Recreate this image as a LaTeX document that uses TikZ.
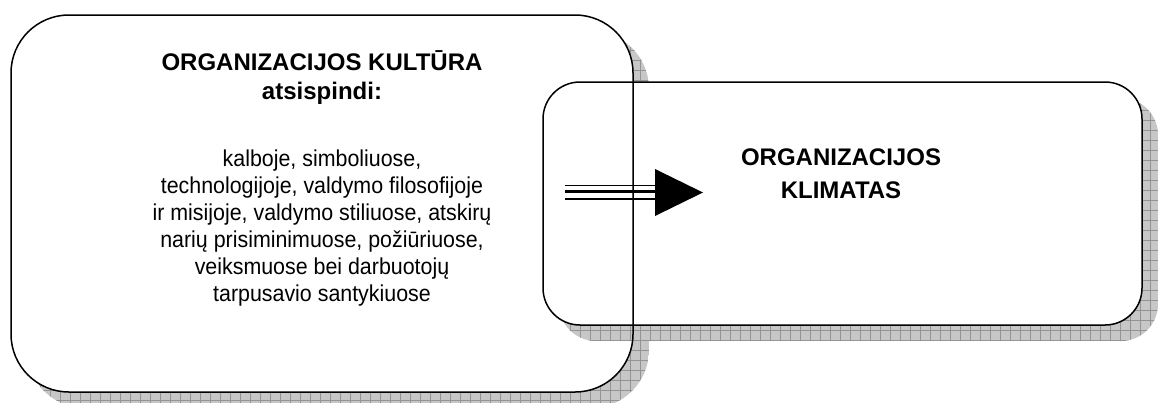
\documentclass[tikz,border=0pt]{standalone}
\usepackage{fontspec}
\setmainfont{Liberation Sans}
\newfontfamily\narrowfont[FakeStretch=0.93]{Liberation Sans}
\tikzset{
  shadowfill/.style={fill=black!22},
  shadowgrid/.style={draw=black!42, line width=0.6pt},
  boxline/.style={draw=black, line width=1.5pt},
  titletext/.style={font=\fontsize{24}{29}\selectfont\bfseries, align=center, inner sep=0pt},
  climatetext/.style={font=\fontsize{24}{33}\selectfont\bfseries, align=center, inner sep=0pt},
  bodytext/.style={font=\narrowfont\fontsize{23}{27}\selectfont, align=center, inner sep=0pt},
}
\begin{document}
\begin{tikzpicture}[x=1pt,y=-1pt]
\useasboundingbox (0,0) rectangle (1158,402);
% big box shadow
\begin{scope}
  \clip[rounded corners=58pt] (27,31) rectangle (649,408);
  \fill[shadowfill] (27,31) rectangle (649,408);
  \foreach \gx in {20,30,...,660} {\draw[shadowgrid] (\gx,20) -- (\gx,410);}
  \foreach \gy in {20,30,...,410} {\draw[shadowgrid] (20,\gy) -- (660,\gy);}
\end{scope}
\fill[white, rounded corners=58pt] (11,15) rectangle (633,392);
% small box shadow
\begin{scope}
  \clip[rounded corners=37pt] (559,98) rectangle (1158,341);
  \fill[shadowfill] (559,98) rectangle (1158,341);
  \foreach \gx in {550,560,...,1160} {\draw[shadowgrid] (\gx,90) -- (\gx,350);}
  \foreach \gy in {90,100,...,350} {\draw[shadowgrid] (550,\gy) -- (1160,\gy);}
\end{scope}
\fill[white, rounded corners=37pt] (543,82) rectangle (1142,325);
% outlines
\draw[boxline, rounded corners=58pt] (11,15) rectangle (633,392);
\draw[boxline, rounded corners=37pt] (543,82) rectangle (1142,325);
% texts
\node[titletext, anchor=north] (culture) at (322,50) {ORGANIZACIJOS KULTŪRA\\atsispindi:};
\node[bodytext, anchor=north] (reflect) at (322,150) {kalboje, simboliuose,\\technologijoje, valdymo filosofijoje\\ir misijoje, valdymo stiliuose, atskirų\\narių prisiminimuose, požiūriuose,\\veiksmuose bei darbuotojų\\tarpusavio santykiuose};
\node[climatetext, anchor=north] (climate) at (841,149) {ORGANIZACIJOS\\KLIMATAS};
% arrow
\coordinate (arrowstart) at (565,192.5);
\coordinate (arrowbase) at (655,192.5);
\coordinate (arrowtip) at (703,192.5);
\draw[line width=1.8pt] ([yshift=7pt]arrowstart) -- ([yshift=7pt]arrowbase);
\draw[line width=3pt] ([yshift=0.7pt]arrowstart) -- ([yshift=0.7pt]arrowbase);
\draw[line width=2.5pt] ([yshift=-6.5pt]arrowstart) -- ([yshift=-6.5pt]arrowbase);
\fill (arrowtip) -- ([yshift=23.5pt]arrowbase) -- ([yshift=-23.5pt]arrowbase) -- cycle;
\end{tikzpicture}
\end{document}
